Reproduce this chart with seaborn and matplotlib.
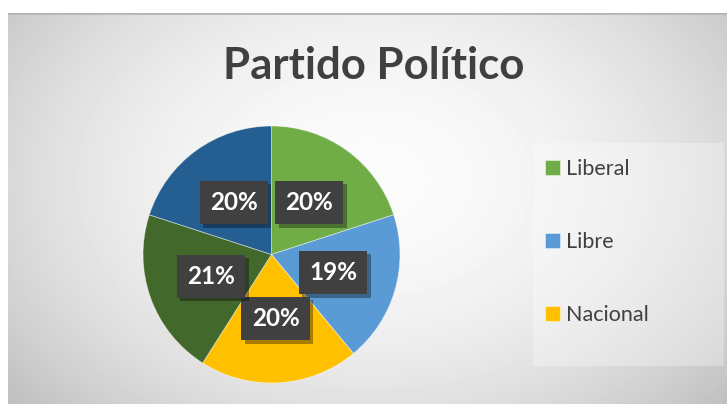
import numpy as np
import matplotlib
matplotlib.use("Agg")
import matplotlib.pyplot as plt
import matplotlib.patheffects as pe
import seaborn as sns
from matplotlib.patches import Rectangle

# ---- data ----
categories = ["Liberal", "Libre", "Nacional", "PAC", "Otros"]
values = [20, 19, 20, 21, 20]
colors = ["#70AD47", "#5B9BD5", "#FFC000", "#43682B", "#255E91"]
legend_categories = ["Liberal", "Libre", "Nacional"]
title = "Partido Político"

sns.set_theme(style="white")
plt.rcParams['font.family'] = ['Lato', 'DejaVu Sans']

W, H = 727, 404
fig = plt.figure(figsize=(W / 100, H / 100), dpi=100)
fig.patch.set_facecolor('white')

# ---- background gradient ----
bg = fig.add_axes([8 / W, 0, 1 - 8 / W, (H - 13) / H])
ny, nx = H - 13, W - 8
yy, xx = np.mgrid[0:ny, 0:nx]
cx, cy = 370 - 8, 180 - 13
d2 = ((xx - cx) / 420.0) ** 2 + ((yy - cy) / 300.0) ** 2
v = np.clip(251 - 47 * d2, 185, 251)
bg.imshow(v, cmap='gray', vmin=0, vmax=255, aspect='auto', interpolation='bilinear')
bg.axhline(-0.5, color='#b5b5b5', lw=2)
bg.axis('off')

# legend panel
fig.patches.append(Rectangle((533 / W, (H - 366) / H), (724 - 533) / W, (366 - 143) / H,
                             transform=fig.transFigure, fc='white', alpha=0.3, ec='none'))

# ---- pie ----
ax = fig.add_axes([143 / W, (H - 383) / H, 257 / W, 257 / H])
wedges, _ = ax.pie(values, colors=colors, startangle=90, counterclock=False, radius=1,
                   wedgeprops=dict(linewidth=0.6, edgecolor=(1, 1, 1, 0.5)))
ax.set_xlim(-1, 1)
ax.set_ylim(-1, 1)
ax.set_aspect('equal')
ax.axis('off')

total = float(sum(values))
for w, val in zip(wedges, values):
    ang = np.deg2rad((w.theta1 + w.theta2) / 2)
    x, y = 0.5 * np.cos(ang), 0.5 * np.sin(ang)
    lab = f"{round(val / total * 100)}%"
    t = ax.text(x, y, lab, ha='center', va='center', fontsize=17.5, fontweight='bold',
                color='white', bbox=dict(boxstyle='square,pad=0.42', fc='#404040', ec='none'),
                zorder=4)
    t.get_bbox_patch().set_path_effects(
        [pe.SimplePatchShadow(offset=(2.5, -2.5), shadow_rgbFace='black', alpha=0.35), pe.Normal()])

# ---- title ----
fig.text(373.5 / W, (H - 79) / H, title, ha='center', va='baseline', fontsize=31.5,
         fontweight='bold', color='#404040')

# ---- legend ----
fig.legend(handles=wedges[:3], labels=legend_categories, loc='upper left',
           bbox_to_anchor=(526 / W, 1 - 140 / H), frameon=False, handlelength=0.68,
           handleheight=0.68, handletextpad=0.3, labelspacing=2.45, fontsize=15.5,
           labelcolor='#404040')

fig.savefig('out.png', dpi=100)
